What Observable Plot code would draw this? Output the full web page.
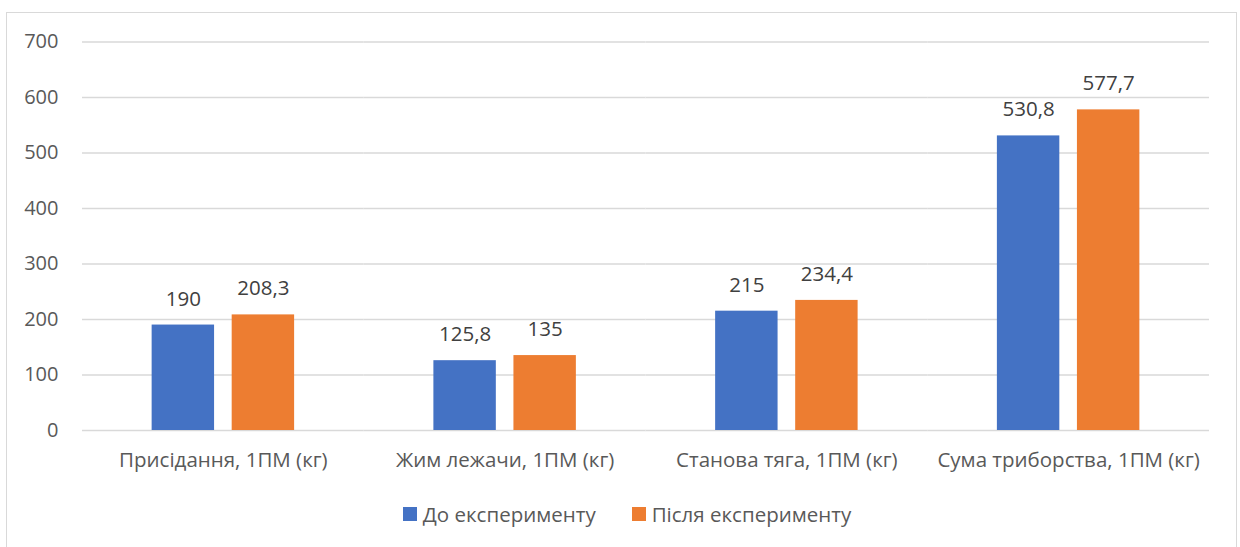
<!DOCTYPE html>
<html>
<head>
<meta charset="utf-8">
<script src="https://cdn.jsdelivr.net/npm/d3@7"></script>
<script src="https://cdn.jsdelivr.net/npm/@observablehq/plot@0.6"></script>
<style>
  body { margin: 0; background: #fff; font-family: "Open Sans", sans-serif; }
  #wrap { position: relative; width: 1240px; height: 547px; overflow: hidden; }
  #frame { position: absolute; left: 6px; top: 12px; width: 1231px; height: 560px; border: 1px solid #d9d9d9; box-sizing: border-box; }
  #chart { position: absolute; left: 0; top: 0; }
  #legend { position: absolute; left: 0; top: 500px; width: 1240px; box-sizing: border-box; padding-left: 14px;
            display: flex; justify-content: center; gap: 36px; font-size: 20.5px; color: #595959; }
  #legend span { display: inline-flex; align-items: center; }
  #legend i { display: inline-block; width: 14px; height: 14px; margin-right: 6px; }
</style>
</head>
<body>
<div id="wrap">
  <div id="frame"></div>
  <div id="chart"></div>
  <div id="legend"></div>
</div>
<script>
const categories = ["Присідання, 1ПМ (кг)", "Жим лежачи, 1ПМ (кг)", "Станова тяга, 1ПМ (кг)", "Сума триборства, 1ПМ (кг)"];
const seriesNames = ["До експерименту", "Після експерименту"];
const before = [190, 125.8, 215, 530.8];
const after = [208.3, 135, 234.4, 577.7];
const colors = ["#4472C4", "#ED7D31"];
const yTicks = [0, 100, 200, 300, 400, 500, 600, 700];

const rows = [];
categories.forEach((c, i) => {
  rows.push({cat: c, series: seriesNames[0], value: before[i]});
  rows.push({cat: c, series: seriesNames[1], value: after[i]});
});
const fmt = v => String(v).replace(".", ",");

const chart = Plot.plot({
  width: 1240,
  height: 480,
  marginLeft: 82,
  marginRight: 31,
  marginTop: 41.5,
  marginBottom: 50,
  style: {fontFamily: "Open Sans, sans-serif", fontSize: "20px", color: "#595959", background: "transparent"},
  fx: {domain: categories, padding: 0, label: null, round: false},
  x: {domain: seriesNames, paddingInner: 0.22, paddingOuter: 0.87, axis: null, round: false},
  y: {domain: [0, 700], label: null},
  color: {domain: seriesNames, range: colors},
  marks: [
    Plot.ruleY(yTicks, {stroke: "#d9d9d9", strokeWidth: 1.5, strokeOpacity: 1}),
    Plot.axisY({ticks: yTicks, tickSize: 0, tickPadding: 24, label: null, fontSize: 20, tickFormat: d => d}),
    Plot.axisFx({anchor: "bottom", tickSize: 0, tickPadding: 22, label: null, fontSize: 20.5}),
    Plot.barY(rows, {fx: "cat", x: "series", y: "value", fill: "series"}),
    Plot.text(rows, {fx: "cat", x: "series", y: "value", text: d => fmt(d.value), dy: -26,
                     fill: "#404040", fontSize: 20.5})
  ]
});
document.getElementById("chart").appendChild(chart);

const legend = document.getElementById("legend");
seriesNames.forEach((s, i) => {
  const el = document.createElement("span");
  el.innerHTML = `<i style="background:${colors[i]}"></i>${s}`;
  legend.appendChild(el);
});
</script>
</body>
</html>
